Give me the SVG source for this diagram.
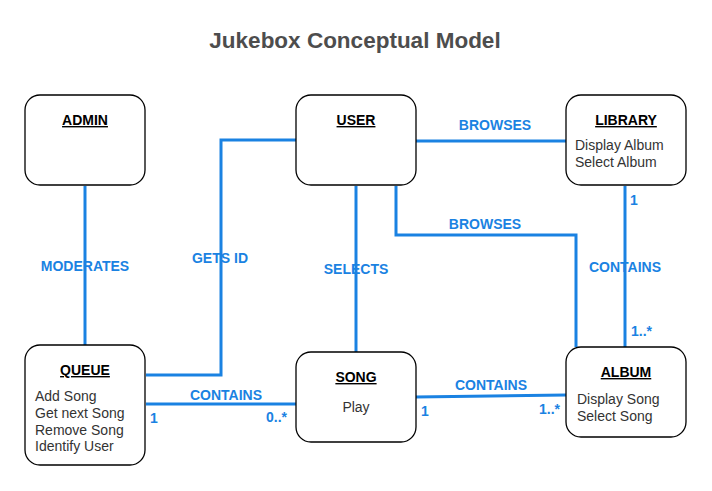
<svg xmlns="http://www.w3.org/2000/svg" width="712" height="491" viewBox="0 0 712 491">
<style>
.node{fill:#fff;stroke:#000;stroke-width:1.3}
.ttl{font-family:"Liberation Sans",Arial,sans-serif;font-size:14px;font-weight:bold;text-decoration:underline;fill:#000;text-anchor:middle}
.body{font-family:"Liberation Sans",Arial,sans-serif;font-size:14px;fill:#333}
.edge{fill:none;stroke:#1a82e2;stroke-width:3}
.lbl{font-family:"Liberation Sans",Arial,sans-serif;font-size:14px;font-weight:bold;fill:#1a82e2;text-anchor:middle}
.card{font-family:"Liberation Sans",Arial,sans-serif;font-size:14px;font-weight:bold;fill:#1a82e2}
</style>
<rect width="712" height="491" fill="#fff"/>
<text x="355" y="48" text-anchor="middle" font-family="Liberation Sans,Arial,sans-serif" font-size="22.5" font-weight="bold" fill="#4d4d4d">Jukebox Conceptual Model</text>
<g id="connectors">
<path class="edge" d="M85 186V345"/>
<path class="edge" d="M296 140H221V375H146"/>
<path class="edge" d="M146 404H296"/>
<path class="edge" d="M356 186V352"/>
<path class="edge" d="M415 141H566"/>
<path class="edge" d="M396 186V235H576V347"/>
<path class="edge" d="M625 186V347"/>
<path class="edge" d="M415 397L566 395"/>
<text class="lbl" x="85" y="271">MODERATES</text>
<text class="lbl" x="220" y="263">GETS ID</text>
<text class="lbl" x="226" y="400">CONTAINS</text>
<text class="card" x="150" y="423">1</text>
<text class="card" x="266" y="422">0..*</text>
<text class="lbl" x="356" y="274">SELECTS</text>
<text class="lbl" x="495" y="130">BROWSES</text>
<text class="lbl" x="485" y="229">BROWSES</text>
<text class="lbl" x="625" y="272">CONTAINS</text>
<text class="card" x="630" y="205">1</text>
<text class="card" x="631" y="336">1..*</text>
<text class="lbl" x="491" y="390">CONTAINS</text>
<text class="card" x="421" y="416">1</text>
<text class="card" x="539" y="414">1..*</text>
</g>
<g id="admin">
<rect class="node" x="25" y="95" width="120" height="90" rx="15"/>
<text class="ttl" x="85" y="125">ADMIN</text>
</g>
<g id="user">
<rect class="node" x="296" y="95" width="120" height="90" rx="15"/>
<text class="ttl" x="356" y="125">USER</text>
</g>
<g id="library">
<rect class="node" x="566" y="95" width="120" height="90" rx="15"/>
<text class="ttl" x="626" y="125">LIBRARY</text>
<text class="body" x="575" y="150">Display Album</text>
<text class="body" x="575" y="167">Select Album</text>
</g>
<g id="queue">
<rect class="node" x="25" y="345" width="120" height="120" rx="15"/>
<text class="ttl" x="85" y="375">QUEUE</text>
<text class="body" x="35" y="401">Add Song</text>
<text class="body" x="35" y="418">Get next Song</text>
<text class="body" x="35" y="435">Remove Song</text>
<text class="body" x="35" y="451">Identify User</text>
</g>
<g id="song">
<rect class="node" x="296" y="352" width="120" height="90" rx="15"/>
<text class="ttl" x="356" y="382">SONG</text>
<text class="body" x="356" y="412" text-anchor="middle">Play</text>
</g>
<g id="album">
<rect class="node" x="566" y="347" width="120" height="90" rx="15"/>
<text class="ttl" x="626" y="377">ALBUM</text>
<text class="body" x="577" y="404">Display Song</text>
<text class="body" x="577" y="421">Select Song</text>
</g>
</svg>
